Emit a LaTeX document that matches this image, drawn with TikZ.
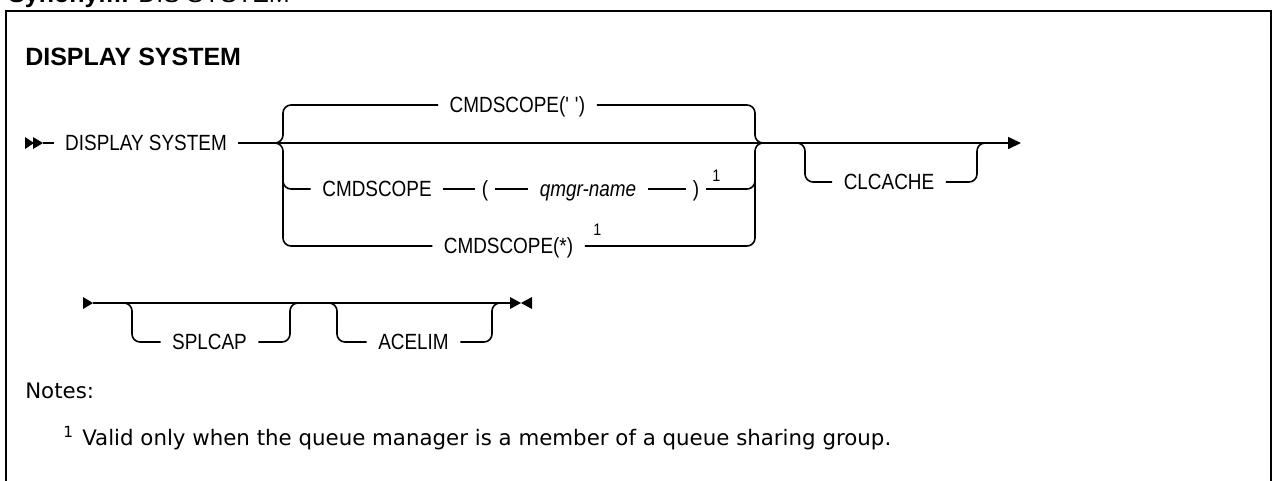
\documentclass[tikz,border=0pt]{standalone}
\usepackage{fontspec}
\setmainfont{Liberation Sans}
\newfontfamily\railfont[FakeStretch=0.86]{Liberation Sans}
\newfontfamily\notefont{DejaVu Sans}
\usetikzlibrary{arrows.meta,calc}
\begin{document}
\begin{tikzpicture}[x=0.75pt,y=-0.75pt,
  rail/.style={line width=1.2pt, rounded corners=6pt},
  lbl/.style={font=\railfont\fontsize{16.5}{19}\selectfont, inner xsep=8.5pt, inner ysep=0pt, text height=11.8pt, text depth=0pt},
  parn/.style={lbl, inner xsep=5pt},
  supn/.style={font=\railfont\fontsize{12.5}{15}\selectfont, inner sep=0pt, anchor=base west},
  notetext/.style={font=\notefont\fontsize{16}{19}\selectfont, inner sep=0pt, anchor=base west},
  tip/.style={fill=black},
]
\useasboundingbox (0,0) rectangle (1273,480);

% clipped synonym line and frame
\node[anchor=base west, inner sep=0pt, font=\fontsize{18.75}{22}\selectfont] (syn) at (8,2.5) {\textbf{Synonym:} DIS SYSTEM};
\draw[line width=1.5pt] (6,495) -- (6,11) -- (1271,11) -- (1271,495);

% title
\node[anchor=base west, inner sep=0pt, font=\bfseries\fontsize{18.75}{22}\selectfont] (title) at (25,65) {DISPLAY SYSTEM};

% ---- first line ----
\node[lbl] (ds) at (146,143) {DISPLAY SYSTEM};
\node[lbl] (c1) at (517.5,105) {CMDSCOPE(\textquotesingle\ \textquotesingle)};
\node[lbl] (c2) at (377,189) {CMDSCOPE};
\node[parn] (lp) at (485,189) {(};
\node[lbl] (qm) at (588,189) {\itshape qmgr-name};
\node[parn] (rp) at (696,189) {)};
\node[supn] (s1) at (712,181) {1};
\node[lbl] (c3) at (508.5,246) {CMDSCOPE(*)};
\node[supn] (s2) at (593,235) {1};
\node[lbl] (cl) at (889,182) {CLCACHE};

\coordinate (S1) at (43,143);
\coordinate (L) at (283,143);
\coordinate (L2) at (283,165);
\coordinate (R) at (755,143);
\coordinate (R2) at (755,165);
\coordinate (CLl) at (805,143);
\coordinate (CLr) at (977,143);
\coordinate (E1) at (1021,143);

\fill[tip] (25,137) -- (34,143) -- (25,149) -- cycle;
\fill[tip] (33,137) -- (43,143) -- (33,149) -- cycle;
\draw[rail] (S1) -- (ds.west);
\draw[rail,-{Triangle[length=9.75pt,width=9pt]}] (ds.east) -- (E1);

\draw[rail] ([xshift=-8pt]L) -- (L) |- (c1.west);
\draw[rail] ([xshift=-8pt]L) -- (L) |- (c3.west);
\draw[rail] (L2) |- (c2.west);
\draw[rail] (c2.east) -- (lp.west);
\draw[rail] (lp.east) -- (qm.west);
\draw[rail] (qm.east) -- (rp.west);
\draw[rail] (rp.east) -| (R2);
\draw[rail] (c1.east) -| (R) -- ([xshift=8pt]R);
\draw[rail] (c3.east) -| (R) -- ([xshift=8pt]R);

\draw[rail] ([xshift=-8pt]CLl) -- (CLl) |- (cl.west);
\draw[rail] (cl.east) -| (CLr) -- ([xshift=8pt]CLr);

% ---- second line ----
\node[lbl] (sp) at (209.5,342) {SPLCAP};
\node[lbl] (ac) at (413.5,342) {ACELIM};
\coordinate (B0) at (93,303);
\coordinate (B1) at (510,303);
\coordinate (SPl) at (132,303);
\coordinate (SPr) at (290,303);
\coordinate (ACl) at (337,303);
\coordinate (ACr) at (492,303);

\fill[tip] (83,297) -- (93,303) -- (83,309) -- cycle;
\draw[rail] (B0) -- (B1);
\fill[tip] (510,297) -- (521,303) -- (510,309) -- cycle;
\fill[tip] (532,297) -- (521,303) -- (532,309) -- cycle;

\draw[rail] ([xshift=-8pt]SPl) -- (SPl) |- (sp.west);
\draw[rail] (sp.east) -| (SPr) -- ([xshift=8pt]SPr);
\draw[rail] ([xshift=-8pt]ACl) -- (ACl) |- (ac.west);
\draw[rail] (ac.east) -| (ACr) -- ([xshift=8pt]ACr);

% ---- notes ----
\node[notetext] (notes) at (25,398) {Notes:};
\node[notetext, font=\notefont\fontsize{11.5}{14}\selectfont] (n1) at (63,437) {1};
\node[notetext] (nt) at (82,445) {Valid only when the queue manager is a member of a queue sharing group.};
\end{tikzpicture}
\end{document}
